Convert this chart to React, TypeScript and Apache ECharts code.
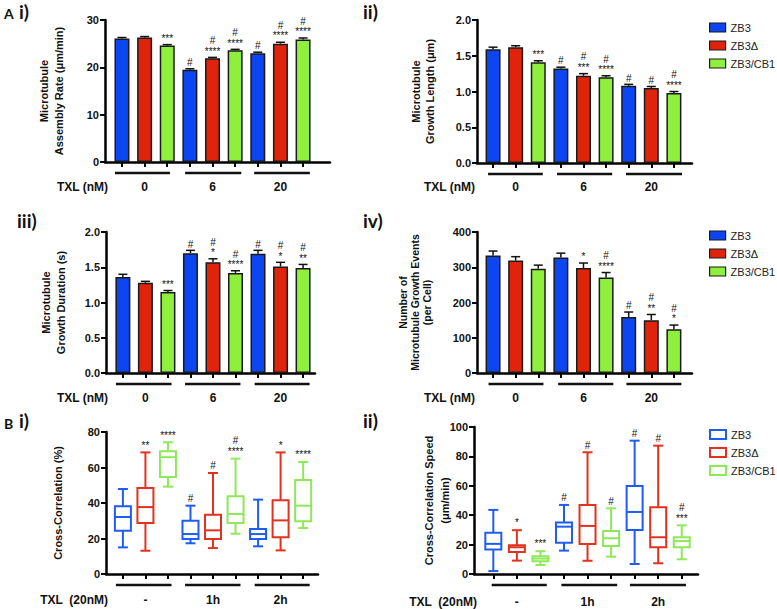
import React, { useEffect, useRef } from 'react';
import * as echarts from 'echarts';

// ---------- data ----------
const seriesNames = ['ZB3', 'ZB3Δ', 'ZB3/CB1'];
const txlDoseLabels = ['0', '6', '20'];
const txlTimeLabels = ['-', '1h', '2h'];
const slotTicks = [0, 1, 2, 3, 4, 5, 6, 7, 8];
const groupLabelSlots = [1, 4, 7];

// slot order: [0nM: ZB3, ZB3Δ, ZB3/CB1, 6nM: ..., 20nM: ...]
const assemblyRateMean = [26.1, 26.3, 24.6, 19.5, 21.9, 23.6, 23.0, 25.0, 25.9];
const assemblyRateErr = [0.2, 0.2, 0.2, 0.2, 0.2, 0.2, 0.2, 0.3, 0.3];
const assemblyRateMarks = ['', '', '***', '#', '#\n****', '#\n****', '#', '#\n****', '#\n****'];

const growthLengthMean = [1.59, 1.62, 1.41, 1.32, 1.22, 1.2, 1.08, 1.05, 0.98];
const growthLengthErr = [0.03, 0.02, 0.02, 0.02, 0.03, 0.02, 0.02, 0.02, 0.02];
const growthLengthMarks = ['', '', '***', '#', '#\n***', '#\n****', '#', '#', '#\n****'];

const growthDurationMean = [1.36, 1.28, 1.15, 1.7, 1.57, 1.42, 1.69, 1.51, 1.49];
const growthDurationErr = [0.04, 0.02, 0.02, 0.04, 0.05, 0.03, 0.05, 0.06, 0.05];
const growthDurationMarks = ['', '', '***', '#', '#\n*', '#\n****', '#', '#\n*', '#\n**'];

const growthEventsMean = [333, 319, 296, 328, 298, 271, 159, 150, 124];
const growthEventsErr = [13, 11, 10, 12, 14, 14, 14, 16, 12];
const growthEventsMarks = ['', '', '', '', '*', '#\n****', '#', '#\n**', '#\n*'];

// box plots: [min, Q1, median, Q3, max]; slot order: [-: ZB3, ZB3Δ, ZB3/CB1, 1h: ..., 2h: ...]
const crossCorrBoxes = [
  [15.0, 24.4, 32.1, 38.1, 47.9],
  [13.1, 28.7, 37.7, 48.5, 68.5],
  [49.2, 54.6, 65.8, 69.1, 74.2],
  [17.3, 19.7, 22.5, 30.0, 38.5],
  [14.6, 19.7, 24.6, 33.4, 56.9],
  [22.7, 28.7, 33.8, 43.8, 65.0],
  [15.6, 19.7, 22.5, 25.4, 41.9],
  [13.3, 20.7, 30.2, 41.5, 68.5],
  [25.9, 29.7, 38.5, 53.0, 63.1],
];
const crossCorrMarks = ['', '**', '****', '#', '#', '#\n****', '', '*', '****'];

const crossSpeedBoxes = [
  [2.0, 16.6, 20.5, 28.0, 43.6],
  [9.1, 15.0, 18.2, 19.5, 29.8],
  [6.1, 8.6, 10.5, 12.0, 15.5],
  [15.9, 21.3, 32.2, 35.1, 47.0],
  [9.0, 20.4, 32.7, 47.0, 82.8],
  [11.8, 19.0, 24.3, 29.3, 44.7],
  [6.8, 29.9, 42.2, 59.9, 90.7],
  [7.3, 18.2, 25.0, 45.4, 87.3],
  [10.0, 18.2, 22.4, 25.0, 33.1],
];
const crossSpeedMarks = ['', '*', '***', '#', '#', '#', '#', '#', '#\n***'];

// ---------- styles / layout ----------
const FONT = "'Liberation Sans', Arial, Helvetica, sans-serif";
const LABEL_FONT = "Lato, 'Open Sans', 'Liberation Sans', sans-serif";
const barColors = ['#0b46f2', '#e0240c', '#8ef03c'];
const boxColors = ['#1f5cf0', '#e2321f', '#8fe85a'];

type Panel = {
  grid: { left: number; top: number; width: number; height: number };
  xMin: number;
  xMax: number;
  yMax: number;
  yInt: number;
  dec: number;
  yName: string;
  nameGap: number;
  nameLH: number;
  nameSize: number;
  groupLabels: string[];
  groupName: string;
  groupNameGap: number;
  groupOffset: number;
  underlines: number[][];
  kind: 'bar' | 'box';
  mean?: number[];
  err?: number[];
  boxes?: number[][];
  marks: string[];
};

const panels: Panel[] = [
  {
    grid: { left: 105, top: 20, width: 225, height: 142 },
    xMin: -0.75, xMax: 9.19, yMax: 30, yInt: 10, dec: 0,
    yName: 'Microtubule\nAssembly Rate (μm/min)', nameGap: 39, nameLH: 15, nameSize: 11,
    groupLabels: txlDoseLabels, groupName: 'TXL (nM)', groupNameGap: -3, groupOffset: 25,
    underlines: [[-0.31, 2.12], [2.79, 5.27], [5.84, 8.3]],
    kind: 'bar', mean: assemblyRateMean, err: assemblyRateErr, marks: assemblyRateMarks,
  },
  {
    grid: { left: 477, top: 20, width: 215, height: 143 },
    xMin: -0.71, xMax: 8.8, yMax: 2, yInt: 0.5, dec: 1,
    yName: 'Microtubule\nGrowth Length (μm)', nameGap: 40, nameLH: 14, nameSize: 11,
    groupLabels: txlDoseLabels, groupName: 'TXL (nM)', groupNameGap: 2, groupOffset: 24,
    underlines: [[-0.22, 2.2], [2.83, 5.27], [5.88, 8.36]],
    kind: 'bar', mean: growthLengthMean, err: growthLengthErr, marks: growthLengthMarks,
  },
  {
    grid: { left: 106, top: 232, width: 209, height: 141 },
    xMin: -0.75, xMax: 8.53, yMax: 2, yInt: 0.5, dec: 1,
    yName: 'Microtubule\nGrowth Duration (s)', nameGap: 38, nameLH: 14.5, nameSize: 11,
    groupLabels: txlDoseLabels, groupName: 'TXL (nM)', groupNameGap: -2, groupOffset: 25,
    underlines: [[-0.31, 2.16], [2.76, 5.22], [5.85, 8.29]],
    kind: 'bar', mean: growthDurationMean, err: growthDurationErr, marks: growthDurationMarks,
  },
  {
    grid: { left: 477, top: 232, width: 215, height: 141 },
    xMin: -0.71, xMax: 8.8, yMax: 400, yInt: 100, dec: 0,
    yName: 'Number of\nMicrotubule Growth Events\n(per Cell)', nameGap: 44, nameLH: 12, nameSize: 10.5,
    groupLabels: txlDoseLabels, groupName: 'TXL (nM)', groupNameGap: 2, groupOffset: 25,
    underlines: [[-0.2, 2.23], [2.88, 5.32], [5.9, 8.33]],
    kind: 'bar', mean: growthEventsMean, err: growthEventsErr, marks: growthEventsMarks,
  },
  {
    grid: { left: 106, top: 432, width: 212, height: 142 },
    xMin: -0.75, xMax: 8.66, yMax: 80, yInt: 20, dec: 0,
    yName: 'Cross-Correlation (%)', nameGap: 41, nameLH: 14, nameSize: 11,
    groupLabels: txlTimeLabels, groupName: 'TXL  (20nM)', groupNameGap: -2, groupOffset: 26,
    underlines: [[-0.31, 2.16], [2.76, 5.22], [5.85, 8.29]],
    kind: 'box', boxes: crossCorrBoxes, marks: crossCorrMarks,
  },
  {
    grid: { left: 474, top: 427, width: 224, height: 147 },
    xMin: -0.82, xMax: 8.69, yMax: 100, yInt: 20, dec: 0,
    yName: 'Cross-Correlation Speed\n(μm/min)', nameGap: 21, nameLH: 16, nameSize: 11,
    groupLabels: txlTimeLabels, groupName: 'TXL  (20nM)', groupNameGap: -3, groupOffset: 28,
    underlines: [[-0.07, 2.27], [2.89, 5.26], [5.8, 8.18]],
    kind: 'box', boxes: crossSpeedBoxes, marks: crossSpeedMarks,
  },
];

const MARK_STYLE = { fontSize: 10, lineHeight: 10.5, fill: '#111', align: 'center', verticalAlign: 'bottom', fontFamily: FONT };

function errRender(marks: string[]) {
  return (_params: any, api: any) => {
    const x = api.value(0);
    const m = api.value(1);
    const e = api.value(2);
    const p0 = api.coord([x, m]);
    const p1 = api.coord([x, m + e]);
    const children: any[] = [
      { type: 'line', shape: { x1: p0[0], y1: p0[1], x2: p1[0], y2: p1[1] }, style: { stroke: '#111', lineWidth: 1.5 } },
      { type: 'line', shape: { x1: p0[0] - 4.5, y1: p1[1], x2: p0[0] + 4.5, y2: p1[1] }, style: { stroke: '#111', lineWidth: 1.5 } },
    ];
    const mark = marks[x] || '';
    if (mark) {
      children.push({ type: 'text', x: p0[0], y: p1[1] - 1, style: { text: mark, ...MARK_STYLE } });
    }
    return { type: 'group', children };
  };
}

function boxRender(color: string, marks: string[]) {
  return (_params: any, api: any) => {
    const x = api.value(0);
    const vals = [1, 2, 3, 4, 5].map((i) => api.value(i));
    const cx = api.coord([x, 0])[0];
    const ys = vals.map((v) => api.coord([x, v])[1]);
    const hw = 8;
    const cw = 5;
    const ls = { stroke: color, lineWidth: 2 };
    const children: any[] = [
      { type: 'line', shape: { x1: cx, y1: ys[3], x2: cx, y2: ys[4] }, style: ls },
      { type: 'line', shape: { x1: cx, y1: ys[1], x2: cx, y2: ys[0] }, style: ls },
      { type: 'line', shape: { x1: cx - cw, y1: ys[4], x2: cx + cw, y2: ys[4] }, style: ls },
      { type: 'line', shape: { x1: cx - cw, y1: ys[0], x2: cx + cw, y2: ys[0] }, style: ls },
      { type: 'rect', shape: { x: cx - hw, y: ys[3], width: hw * 2, height: ys[1] - ys[3] }, style: { stroke: color, lineWidth: 2, fill: '#fff' } },
      { type: 'line', shape: { x1: cx - hw, y1: ys[2], x2: cx + hw, y2: ys[2] }, style: ls },
    ];
    const mark = marks[x] || '';
    if (mark) {
      children.push({ type: 'text', x: cx, y: ys[4] - 2, style: { text: mark, ...MARK_STYLE } });
    }
    return { type: 'group', children };
  };
}

function underlineRender(_params: any, api: any) {
  const a = api.coord([api.value(0), 0]);
  const b = api.coord([api.value(1), 0]);
  return {
    type: 'line',
    shape: { x1: a[0], y1: a[1] + 11, x2: b[0], y2: b[1] + 11 },
    style: { stroke: '#111', lineWidth: 2.5 },
  };
}

function buildOption(): any {
  const grid: any[] = [];
  const xAxis: any[] = [];
  const yAxis: any[] = [];
  const series: any[] = [];

  panels.forEach((p, i) => {
    grid.push({ ...p.grid, containLabel: false });
    xAxis.push({
      type: 'value', gridIndex: i, min: p.xMin, max: p.xMax, position: 'bottom',
      axisLine: { show: true, onZero: false, lineStyle: { color: '#000', width: 2.5 } },
      axisTick: { show: true, customValues: slotTicks, length: 5, lineStyle: { color: '#000', width: 2 } },
      axisLabel: { show: false },
      splitLine: { show: false },
    });
    xAxis.push({
      type: 'value', gridIndex: i, min: p.xMin, max: p.xMax, position: 'bottom', offset: p.groupOffset,
      axisLine: { show: false, onZero: false },
      axisTick: { show: false },
      splitLine: { show: false },
      axisLabel: {
        show: true, customValues: groupLabelSlots, margin: 0, verticalAlign: 'middle',
        formatter: (v: number) => p.groupLabels[Math.round((v - 1) / 3)] ?? '',
        fontSize: 12, fontWeight: 'bold', color: '#111', fontFamily: FONT,
      },
      name: p.groupName, nameLocation: 'start', nameGap: p.groupNameGap,
      nameTextStyle: { fontSize: 12, fontWeight: 'bold', color: '#111', fontFamily: FONT, verticalAlign: 'middle' },
    });
    yAxis.push({
      type: 'value', gridIndex: i, min: 0, max: p.yMax, interval: p.yInt,
      axisLine: { show: true, onZero: false, lineStyle: { color: '#000', width: 2.5 } },
      axisTick: { show: true, length: 5, lineStyle: { color: '#000', width: 2 } },
      axisLabel: {
        margin: 6, fontSize: 11, fontWeight: 'bold', color: '#111', fontFamily: FONT,
        formatter: (v: number) => v.toFixed(p.dec),
      },
      splitLine: { show: false },
      name: p.yName, nameLocation: 'middle', nameGap: p.nameGap, nameMoveOverlap: false,
      nameTextStyle: { fontSize: p.nameSize, fontWeight: 'bold', color: '#111', lineHeight: p.nameLH, fontFamily: FONT },
    });

    if (p.kind === 'bar') {
      seriesNames.forEach((name, g) => {
        series.push({
          type: 'bar', name, xAxisIndex: i * 2, yAxisIndex: i,
          barWidth: 15, barGap: '-100%',
          itemStyle: { color: barColors[g], borderColor: '#1a1a1a', borderWidth: 1.5 },
          data: slotTicks.filter((s) => s % 3 === g).map((s) => [s, p.mean![s]]),
        });
      });
      series.push({
        type: 'custom', name: 'errors' + i, xAxisIndex: i * 2, yAxisIndex: i, z: 5, silent: true,
        renderItem: errRender(p.marks),
        encode: { x: 0, y: 1 },
        data: slotTicks.map((s) => [s, p.mean![s], p.err![s]]),
      });
    } else {
      seriesNames.forEach((name, g) => {
        series.push({
          type: 'custom', name, xAxisIndex: i * 2, yAxisIndex: i, silent: true,
          itemStyle: { color: boxColors[g] },
          renderItem: boxRender(boxColors[g], p.marks),
          encode: { x: 0, y: [1, 2, 3, 4, 5] },
          data: slotTicks.filter((s) => s % 3 === g).map((s) => [s, ...p.boxes![s]]),
        });
      });
    }
    series.push({
      type: 'custom', name: 'groups' + i, xAxisIndex: i * 2, yAxisIndex: i, silent: true,
      renderItem: underlineRender,
      encode: { x: [0, 1] },
      data: p.underlines.map((u) => [u[0], u[1]]),
    });
  });

  const legendBase = {
    orient: 'vertical', left: 704, itemWidth: 16, itemHeight: 9, itemGap: 7,
    icon: 'rect', selectedMode: false,
    textStyle: { fontSize: 11, color: '#222', fontFamily: FONT },
  };
  const barLegendData = seriesNames.map((n, g) => ({
    name: n, itemStyle: { color: barColors[g], borderColor: '#1a1a1a', borderWidth: 1.2 },
  }));
  const boxLegendData = seriesNames.map((n, g) => ({
    name: n, itemStyle: { color: '#fff', borderColor: boxColors[g], borderWidth: 2 },
  }));

  const panelText = (text: string, x: number, y: number, size: number) => ({
    type: 'text', x, y,
    style: { text, fontSize: size, fontWeight: 'bold', fill: '#111', fontFamily: LABEL_FONT },
  });

  return {
    animation: false,
    backgroundColor: '#fff',
    grid, xAxis, yAxis, series,
    legend: [
      { ...legendBase, top: 17, data: barLegendData },
      { ...legendBase, top: 225, data: barLegendData },
      { ...legendBase, top: 424, data: boxLegendData },
    ],
    graphic: [
      panelText('A', 4, 6, 14),
      panelText('i)', 19, 2, 19),
      panelText('ii)', 363, 2, 19),
      panelText('iii)', 17, 211, 19),
      panelText('iv)', 363, 211, 19),
      panelText('B', 4, 416, 14),
      panelText('i)', 19, 411, 19),
      panelText('ii)', 363, 411, 19),
    ],
  };
}

export default function App() {
  const ref = useRef<HTMLDivElement>(null);
  useEffect(() => {
    if (!ref.current) return;
    const chart = echarts.init(ref.current, null, { renderer: 'svg' });
    chart.setOption(buildOption());
    return () => chart.dispose();
  }, []);
  return (
    <div
      ref={ref}
      style={{ position: 'absolute', left: 0, top: 0, width: 777, height: 609, background: '#fff' }}
    />
  );
}
